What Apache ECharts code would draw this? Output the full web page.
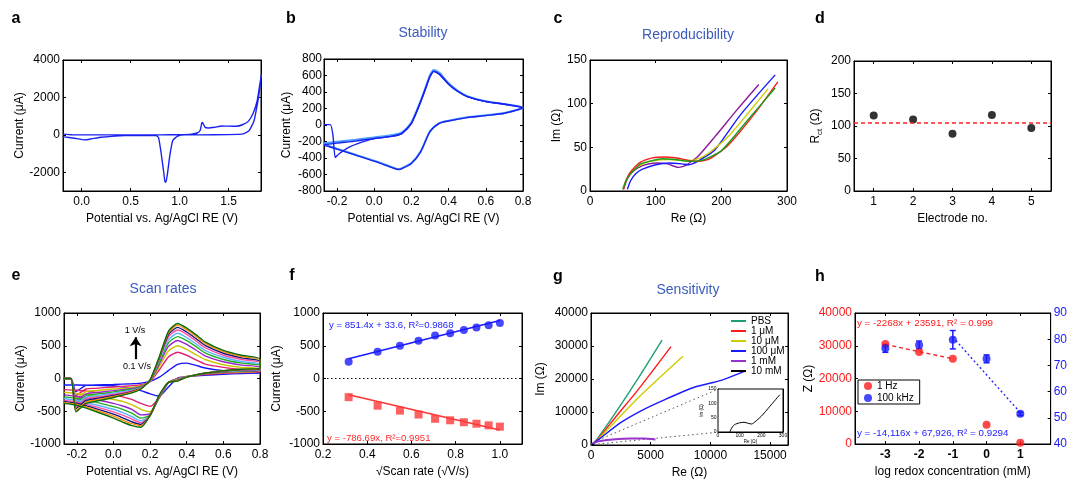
<!DOCTYPE html>
<html><head><meta charset="utf-8">
<script src="https://cdn.jsdelivr.net/npm/echarts@6/dist/echarts.min.js"></script>
<style>html,body{margin:0;padding:0;background:#fff}#c{width:1070px;height:482px}</style>
</head><body><div id="c"></div>
<script>
const F = '"Liberation Sans", Arial, Helvetica, sans-serif';

// ---------- Panel a : CV ----------
const aPot = [-0.19,-0.1,0.2,0.5,0.8,1.0,1.12,1.18,1.21,1.228,1.24,1.26,1.29,1.36,1.43,1.5,1.58,1.64,1.7,1.75,1.79,1.815,1.835,1.815,1.8,1.76,1.71,1.65,1.5,1.2,1.05,0.98,0.93,0.9,0.875,0.86,0.85,0.835,0.81,0.785,0.76,0.44,0.2,0.1,0.03,-0.07,-0.14,-0.19];
const aCur = [40,5,0,0,0,10,40,100,250,660,600,400,370,410,470,465,460,540,720,1150,1800,2600,3250,2400,1850,770,230,50,10,0,0,-70,-300,-1100,-2100,-2530,-2500,-1900,-930,-150,-40,-40,-125,-215,-270,-180,-125,-110];

// ---------- Panel b : Stability ----------
const bStartPot = [-0.27,-0.236,-0.222,-0.21,-0.187,-0.142,-0.07,0.0,0.1];
const bStartCur = [5,5,-120,-394,-345,-276,-211,-165,-135];
const bAnoPot = [-0.27,-0.2,-0.1,0.0,0.1,0.15,0.2,0.25,0.28,0.3,0.32,0.35,0.4,0.45,0.5,0.6,0.7,0.8];
const bAnoCur = [-240,-220,-195,-164,-135,-101,20,284,467,588,650,617,495,406,345,284,252,211];
const bAnoCurLight = [-222,-203,-178,-150,-122,-90,32,295,480,605,668,632,505,414,350,288,255,211];
const bCatPot = [0.8,0.7,0.6,0.5,0.4,0.35,0.3,0.25,0.2,0.15,0.13,0.1,0.0,-0.1,-0.2,-0.27];
const bCatCur = [211,142,114,89,49,20,-81,-325,-467,-528,-540,-519,-438,-365,-292,-243];
const bCatCurLight = [211,146,118,93,53,24,-76,-318,-460,-522,-535,-515,-433,-360,-287,-235];

// ---------- Panel c : Reproducibility ----------
const cPurRe = [51,57,65,80,100,118,135,145,155,165,190,225,257];
const cPurIm = [2,14,22,29,32,31,27,29,34,40,62,94,122];
const cBluRe = [57,62,70,80,100,120,140,150,162,175,190,230,282];
const cBluIm = [2,12,20,25,30,32,31,30,33,39,47,88,133];
const cYelRe = [50,56,63,80,100,120,140,155,165,180,210,245,271];
const cYelIm = [2,14,22,31,35,36,35,35,37,43,62,93,117];
const cRedRe = [51,56,62,77,95,113,130,150,164,175,185,210,250,286];
const cRedIm = [2,14,22,33,38,39,38,35,34,35,38,52,88,125];
const cGrnRe = [50,55,61,70,77,90,110,130,150,170,180,200,240,282];
const cGrnIm = [2,12,19,26,31,34,37,36,34,35,38,46,81,118];

// ---------- Panel d : Rct ----------
const dElectrode = [1,2,3,4,5];
const dRct = [116,110,88,117,97];
const dMean = 105.6;

// ---------- Panel e : Scan rates ----------
const eColors = ['#1515ff','#e0206e','#c8c400','#9a22c8','#22b022','#5ab4ff','#ff4fa8','#14147a','#ff8c00','#0b6b0b'];
const eSpike = [-200,-260,-300,-340,-370,-400,-430,-460,-485,-510];
const eAnoPot = [-0.15,-0.1,0.0,0.1,0.15,0.2,0.25,0.3,0.35,0.4,0.45,0.5,0.6,0.7,0.8];
const eAno = [
 [-105,-100,-92,-80,-70,-45,20,120,215,235,200,160,120,100,85],
 [-160,-150,-130,-110,-95,-50,130,330,400,355,285,220,170,140,120],
 [-200,-185,-160,-135,-110,-45,180,420,500,445,365,290,210,170,150],
 [-235,-215,-185,-150,-120,-40,220,490,580,520,435,345,255,205,175],
 [-260,-240,-205,-165,-130,-35,250,545,640,580,490,390,290,235,200],
 [-285,-265,-225,-180,-140,-30,275,590,690,625,530,430,325,260,220],
 [-310,-290,-245,-190,-145,-28,295,635,740,675,575,470,355,290,245],
 [-335,-310,-260,-200,-150,-25,310,670,780,710,610,505,385,315,265],
 [-360,-330,-275,-210,-155,-22,320,700,815,745,645,535,410,335,285],
 [-380,-350,-290,-220,-160,-20,330,720,840,770,670,560,430,355,300]
];
const eCatPot = [0.8,0.7,0.6,0.5,0.45,0.4,0.35,0.3,0.25,0.2,0.15,0.1,0.05,0.0,-0.1,-0.2,-0.27];
const eCat = [
 [80,75,65,50,40,25,5,-130,-270,-235,-185,-150,-130,-115,-105,-100,-100],
 [100,90,80,60,45,30,0,-60,-300,-425,-380,-320,-280,-250,-210,-180,-170],
 [110,100,90,70,50,30,-5,-60,-300,-505,-470,-400,-350,-320,-270,-230,-210],
 [120,108,97,75,52,28,-10,-60,-290,-540,-555,-470,-420,-380,-320,-275,-250],
 [130,115,103,78,53,26,-15,-60,-280,-560,-605,-530,-470,-430,-360,-305,-280],
 [140,122,108,80,54,25,-20,-60,-275,-570,-645,-580,-520,-470,-400,-335,-305],
 [145,128,112,80,55,24,-25,-60,-270,-570,-675,-620,-560,-510,-430,-360,-330],
 [150,133,115,80,55,22,-30,-60,-265,-565,-700,-660,-600,-545,-455,-380,-350],
 [155,138,118,80,55,21,-35,-60,-260,-560,-722,-690,-635,-575,-480,-395,-365],
 [160,142,120,80,55,20,-40,-60,-250,-560,-745,-720,-665,-605,-500,-410,-380]
];

// ---------- Panel f : peak current vs sqrt(scan rate) ----------
const fSqrtRate = [0.316,0.447,0.548,0.632,0.707,0.775,0.837,0.894,0.949,1.0];
const fAnodic = [255,410,500,575,655,690,740,778,812,848];
const fCathodic = [-285,-415,-490,-550,-615,-638,-668,-690,-715,-735];
const fFitX = [0.316,1.0];
const fFitAnodic = [303,885];
const fFitCathodic = [-249,-787];

// ---------- Panel g : Sensitivity ----------
const gPbsRe = [0,500,2000,4000,5950];   const gPbsIm = [0,1800,9500,20500,31800];
const g1uRe = [0,500,2000,4000,6700];    const g1uIm = [0,1500,8200,17000,29800];
const g10uRe = [0,500,2000,4000,7700];   const g10uIm = [0,1400,7000,14500,26900];
const g100uRe = [0,800,2450,4150,5950,8650,10900,12850]; const g100uIm = [0,2100,6700,10300,13400,17500,19600,22300];
const g1mRe = [170,600,1350,2300,3300,4400,5400]; const g1mIm = [500,1100,1550,1850,1960,1960,1650];
const g10mRe = [55,60,75,100,120,140,155,170,200,240,285]; const g10mIm = [0,10,25,32,34,30,28,35,55,90,130];
const gDotUpRe = [600,10700]; const gDotUpIm = [1500,17000];
const gDotLoRe = [600,10700]; const gDotLoIm = [300,3900];

// ---------- Panel h ----------
const hLogConc = [-3,-2,-1,0,1];
const h1Hz = [30500,28100,26000,5900,400];
const h100kHz = [76.5,77.8,79.8,72.5,51.5];
const h100kHzErr = [1.5,1.5,3.5,1.5,0.6];
const hFit1HzX = [-3,-1]; const hFit1HzY = [30400,26000];
const hFit100kX = [-1,1]; const hFit100kY = [80.8,52];

// ---------- builders ----------
const zip = (xs, ys) => xs.map((x,i)=>[x, ys[i]]);
const grids=[], xAxes=[], yAxes=[], series=[];
function mkAxis(c, gi, pos, main){
  const a = {type:'value', gridIndex:gi, position:pos, min:c.min, max:c.max, silent:true,
    axisLine:{show:true,onZero:false,lineStyle:{color:'#000',width:1}},
    axisTick:{show:true,inside:true,length:c.tl||3,lineStyle:{color:'#000',width:1},customValues:c.ticks},
    axisLabel:{show:main,customValues:c.ticks,fontFamily:F,fontSize:c.fs||12,color:c.color||'#000',
      fontWeight:c.bold?'bold':'normal',margin:c.margin!=null?c.margin:(pos==='bottom'?5:3),
      formatter:c.fmt||(v=>String(v))},
    splitLine:{show:false}};
  if(main && c.name){a.name=c.name;a.nameLocation='middle';a.nameGap=c.gap;
    a.nameTextStyle=Object.assign({fontFamily:F,fontSize:c.nfs||12,color:'#000'},c.nts||{});}
  return a;
}
function panel(g, xc, yc, yc2){
  const gi=grids.length;
  grids.push(Object.assign({show:true,borderColor:'#000',borderWidth:1,containLabel:false},g));
  const xi=xAxes.length; xAxes.push(mkAxis(xc,gi,'bottom',true)); xAxes.push(mkAxis(xc,gi,'top',false));
  const yi=yAxes.length; yAxes.push(mkAxis(yc,gi,'left',true));
  yAxes.push(yc2?mkAxis(yc2,gi,'right',true):mkAxis(yc,gi,'right',false));
  return {xi, yi, yi2:yi+1};
}
function ln(p, data, color, o){
  series.push(Object.assign({type:'line',xAxisIndex:p.xi,yAxisIndex:p.yi,data,symbol:'none',showSymbol:false,
    smooth:0.25,lineStyle:{color,width:1.4},itemStyle:{color},animation:false,silent:true,z:2},o||{}));
}
const f1 = v=>v.toFixed(1);
const potTicks=[-0.2,0,0.2,0.4,0.6,0.8];

const pA = panel({left:63,top:60,width:198,height:131},
  {min:-0.19,max:1.83,ticks:[0,0.5,1,1.5],fmt:f1,name:'Potential vs. Ag/AgCl RE (V)',gap:22},
  {min:-3000,max:4000,ticks:[-2000,0,2000,4000],name:'Current (μA)',gap:36});
const pB = panel({left:324,top:59,width:199,height:132},
  {min:-0.27,max:0.8,ticks:potTicks,fmt:f1,name:'Potential vs. Ag/AgCl RE (V)',gap:22},
  {min:-800,max:800,ticks:[-800,-600,-400,-200,0,200,400,600,800],name:'Current (μA)',gap:31,margin:2});
const pC = panel({left:590,top:60,width:197,height:131},
  {min:0,max:300,ticks:[0,100,200,300],name:'Re (Ω)',gap:22},
  {min:0,max:150,ticks:[0,50,100,150],name:'Im (Ω)',gap:27});
const pD = panel({left:854,top:61,width:197,height:130},
  {min:0.5,max:5.5,ticks:[1,2,3,4,5],name:'Electrode no.',gap:22},
  {min:0,max:200,ticks:[0,50,100,150,200],name:'{n|R}{s|ct}{n| (Ω)}',gap:30,
   nts:{rich:{n:{fontFamily:F,fontSize:12,color:'#000',lineHeight:16},s:{fontFamily:F,fontSize:8,color:'#000',lineHeight:16,padding:[7,0,0,0]}}}});
const pE = panel({left:64,top:313,width:196,height:131},
  {min:-0.27,max:0.8,ticks:potTicks,fmt:f1,name:'Potential vs. Ag/AgCl RE (V)',gap:22},
  {min:-1000,max:1000,ticks:[-1000,-500,0,500,1000],name:'Current (μA)',gap:37});
const pF = panel({left:323,top:313,width:199,height:131},
  {min:0.2,max:1.1,ticks:[0.2,0.4,0.6,0.8,1.0],fmt:f1,name:'√Scan rate (√V/s)',gap:22},
  {min:-1000,max:1000,ticks:[-1000,-500,0,500,1000],name:'Current (μA)',gap:40});
const pG = panel({left:591,top:313,width:197,height:132},
  {min:0,max:16500,ticks:[0,5000,10000,15000],name:'Re (Ω)',gap:22},
  {min:0,max:40000,ticks:[0,10000,20000,30000,40000],name:'Im (Ω)',gap:44});
const pH = panel({left:855,top:313,width:196,height:131},
  {min:-3.9,max:1.9,ticks:[-3,-2,-1,0,1],bold:true,name:'log redox concentration (mM)',gap:22},
  {min:0,max:40000,ticks:[0,10000,20000,30000,40000],color:'#ff1a1a',name:'Z (Ω)',gap:38},
  {min:40,max:90,ticks:[40,50,60,70,80,90],color:'#1a1aff'});
const pI = panel({left:718,top:389,width:65,height:43,backgroundColor:'#fff',z:5},
  {min:0,max:300,ticks:[0,100,200,300],fs:5,tl:1.5,margin:1.5,name:'Re (Ω)',gap:6,nfs:4.5},
  {min:0,max:150,ticks:[0,50,100,150],fs:5,tl:1.5,margin:1.5,name:'Im (Ω)',gap:11,nfs:4.5});

// a
ln(pA, zip(aPot,aCur), '#1a22f0', {smooth:0.15});
// b
ln(pB, zip(bAnoPot,bAnoCurLight).concat(zip(bCatPot,bCatCurLight)), '#4a9eff', {lineStyle:{color:'#4a9eff',width:2}});
ln(pB, zip(bAnoPot,bAnoCur).concat(zip(bCatPot,bCatCur)), '#1a22f0');
ln(pB, zip(bStartPot,bStartCur).concat(zip(bAnoPot,bAnoCur).slice(5)), '#1a22f0', {smooth:0.15});
// c
ln(pC, zip(cPurRe,cPurIm), '#8b1a9b');
ln(pC, zip(cBluRe,cBluIm), '#1a1aff');
ln(pC, zip(cYelRe,cYelIm), '#cccc00');
ln(pC, zip(cRedRe,cRedIm), '#ff1a1a');
ln(pC, zip(cGrnRe,cGrnIm), '#1a9e1a');
// d
series.push({type:'scatter',xAxisIndex:pD.xi,yAxisIndex:pD.yi,data:zip(dElectrode,dRct),symbol:'circle',symbolSize:8,
  itemStyle:{color:'#000'},animation:false,silent:true,z:3,
  markLine:{silent:true,symbol:'none',animation:false,label:{show:false},
    lineStyle:{color:'#ff2020',type:[4,3],width:1.5},data:[{yAxis:dMean}]}});
// e
eColors.forEach((col,i)=>{
  const d=[[-0.28,0],[-0.232,0],[-0.205,eSpike[i]]].concat(zip(eAnoPot,eAno[i])).concat(zip(eCatPot,eCat[i]));
  ln(pE, d, col, {smooth:0.2, z:2+i*0.01});
});
series[series.length-10].markLine = {silent:true,animation:false,symbol:['none','arrow'],symbolSize:9,
  label:{show:false},lineStyle:{color:'#000',width:2.2,type:'solid'},
  data:[[{coord:[0.121,295]},{coord:[0.121,630]}]]};
// f
ln(pF, zip(fFitX,fFitAnodic), '#1a1aff', {smooth:false,lineStyle:{color:'#1a1aff',width:1.5}});
ln(pF, zip(fFitX,fFitCathodic), '#ff3333', {smooth:false,lineStyle:{color:'#ff3333',width:1.5},
  markLine:{silent:true,symbol:'none',animation:false,label:{show:false},
    lineStyle:{color:'#000',type:[1.5,2.5],width:1},data:[{yAxis:0}]}});
series.push({type:'scatter',xAxisIndex:pF.xi,yAxisIndex:pF.yi,data:zip(fSqrtRate,fAnodic),symbol:'circle',symbolSize:8,itemStyle:{color:'#1a1aff'},animation:false,silent:true,z:3});
series.push({type:'scatter',xAxisIndex:pF.xi,yAxisIndex:pF.yi,data:zip(fSqrtRate,fCathodic),symbol:'rect',symbolSize:8,itemStyle:{color:'#ff3a3a'},animation:false,silent:true,z:3});
// g
ln(pG, zip(gDotUpRe,gDotUpIm), '#555', {smooth:false,lineStyle:{color:'#555',width:1,type:[1.5,3]}});
ln(pG, zip(gDotLoRe,gDotLoIm), '#555', {smooth:false,lineStyle:{color:'#555',width:1,type:[1.5,3]}});
ln(pG, zip(gPbsRe,gPbsIm), '#20a070', {name:'PBS'});
ln(pG, zip(g1uRe,g1uIm), '#ff1a1a', {name:'1 μM'});
ln(pG, zip(g10uRe,g10uIm), '#cccc00', {name:'10 μM'});
ln(pG, zip(g100uRe,g100uIm), '#1a1aff', {name:'100 μM'});
ln(pG, zip(g1mRe,g1mIm), '#9933cc', {name:'1 mM',lineStyle:{color:'#9933cc',width:2}});
ln(pG, zip(g10mRe,g10mIm), '#000', {name:'10 mM'});
// inset
ln(pI, zip(g10mRe,g10mIm), '#000', {lineStyle:{color:'#000',width:1},z:6});
// h
ln(pH, zip(hFit1HzX,hFit1HzY), '#ff1a1a', {smooth:false,lineStyle:{color:'#ff1a1a',width:1.3,type:[4,3]}});
ln(pH, zip(hFit100kX,hFit100kY), '#1a1aff', {smooth:false,yAxisIndex:pH.yi2,lineStyle:{color:'#1a1aff',width:1.3,type:[2,2.5]}});
series.push({type:'custom',xAxisIndex:pH.xi,yAxisIndex:pH.yi2,animation:false,silent:true,z:3,
  data:hLogConc.map((x,i)=>[x,h100kHz[i]-h100kHzErr[i],h100kHz[i]+h100kHzErr[i]]),
  renderItem(params, api){
    const lo=api.coord([api.value(0),api.value(1)]), hi=api.coord([api.value(0),api.value(2)]), w=3;
    const st={stroke:'#1a1aff',lineWidth:1.5};
    return {type:'group',children:[
      {type:'line',shape:{x1:lo[0],y1:lo[1],x2:hi[0],y2:hi[1]},style:st},
      {type:'line',shape:{x1:lo[0]-w,y1:lo[1],x2:lo[0]+w,y2:lo[1]},style:st},
      {type:'line',shape:{x1:hi[0]-w,y1:hi[1],x2:hi[0]+w,y2:hi[1]},style:st}]};
  }});
series.push({type:'scatter',name:'1 Hz',xAxisIndex:pH.xi,yAxisIndex:pH.yi,data:zip(hLogConc,h1Hz),symbol:'circle',symbolSize:8,itemStyle:{color:'#ff1a1a'},animation:false,silent:true,z:4});
series.push({type:'scatter',name:'100 kHz',xAxisIndex:pH.xi,yAxisIndex:pH.yi2,data:zip(hLogConc,h100kHz),symbol:'circle',symbolSize:8,itemStyle:{color:'#1a1aff'},animation:false,silent:true,z:4});

// ---------- texts ----------
function txt(text,x,y,font,fill,align){
  return {type:'text',x,y,silent:true,z:100,style:{text,font,fill,align:align||'center',verticalAlign:'middle',
    textAlign:align||'center',textVerticalAlign:'middle'}};
}
const letterFont='bold 16px '+F, titleFont='14px '+F, titleCol='#3b5bbd';
const graphic=[
  txt('a',16,19,letterFont,'#000'),txt('b',291,19,letterFont,'#000'),txt('c',558,19,letterFont,'#000'),txt('d',820,19,letterFont,'#000'),
  txt('e',16,276,letterFont,'#000'),txt('f',292,276,letterFont,'#000'),txt('g',558,277,letterFont,'#000'),txt('h',820,277,letterFont,'#000'),
  txt('Stability',423,33,titleFont,titleCol),txt('Reproducibility',688,35,titleFont,titleCol),
  txt('Scan rates',163,289,titleFont,titleCol),txt('Sensitivity',688,290,titleFont,titleCol),
  txt('1 V/s',135,331,'9px '+F,'#000'),txt('0.1 V/s',137,367,'9px '+F,'#000'),
  txt('y = 851.4x + 33.6, R²=0.9868',329,325,'9.6px '+F,'#1a1aff','left'),
  txt('y = -786.69x, R²=0.9951',327,438,'9.6px '+F,'#ff2a2a','left'),
  txt('y = -2268x + 23591, R² = 0.999',857,323,'9.8px '+F,'#ff1a1a','left'),
  txt('y = -14,116x + 67,926, R² = 0.9294',857,433,'9.8px '+F,'#1a1aff','left')
];

const option={animation:false,backgroundColor:'#fff',grid:grids,xAxis:xAxes,yAxis:yAxes,series,graphic,
  legend:[
    {data:['PBS','1 μM','10 μM','100 μM','1 mM','10 mM'],orient:'vertical',left:731,top:316,itemWidth:15,itemHeight:2,icon:'rect',
     itemGap:0,padding:0,textStyle:{fontFamily:F,fontSize:10,color:'#000',lineHeight:9.5},selectedMode:false},
    {data:['1 Hz','100 kHz'],orient:'vertical',left:858,top:380,itemWidth:8,itemHeight:8,icon:'circle',itemGap:0,
     padding:[0,6,0,6],borderColor:'#000',borderWidth:1,backgroundColor:'#fff',
     textStyle:{fontFamily:F,fontSize:10,color:'#000',lineHeight:12},selectedMode:false}
  ]};
const chart=echarts.init(document.getElementById('c'),null,{renderer:'canvas'});
chart.setOption(option);
</script></body></html>
